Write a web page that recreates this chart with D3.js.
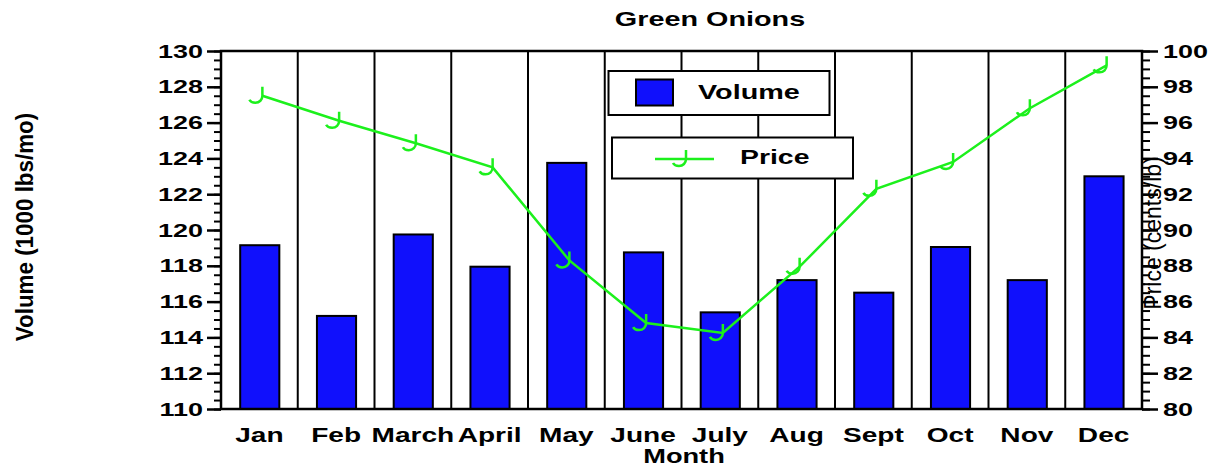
<!DOCTYPE html>
<html>
<head>
  <meta charset="utf-8">
  <title>Green Onions</title>
  <style>
    body { margin: 0; background: #fff; }
    text { font-family: "Liberation Sans", Arial, sans-serif; }
  </style>
</head>
<body>
<script src="https://cdnjs.cloudflare.com/ajax/libs/d3/7.8.5/d3.min.js"></script>
<script>
// data
const months = ["Jan", "Feb", "March", "April", "May", "June", "July", "Aug", "Sept", "Oct", "Nov", "Dec"];
const volume = [119.15, 115.2, 119.75, 117.95, 123.75, 118.75, 115.4, 117.2, 116.5, 119.05, 117.2, 123.0];
const price = [97.5, 96.1, 94.85, 93.5, 88.3, 84.8, 84.25, 87.95, 92.3, 93.8, 96.8, 99.2];
const volTicks = d3.range(110, 131, 2);
const priceTicks = d3.range(80, 101, 2);

const width = 1218, height = 472;
const plotL = 221, plotR = 1142, plotT = 51, plotB = 409;
const sx = 1.42; // text in the picture is stretched sideways

const svg = d3.select("body").append("svg")
  .attr("width", width)
  .attr("height", height);

const x = d3.scaleBand().domain(months).range([plotL, plotR]).padding(0);
const yVol = d3.scaleLinear().domain([110, 130]).range([plotB, plotT]);
const yPrice = d3.scaleLinear().domain([80, 100]).range([plotB, plotT]);

// title
svg.append("text")
  .attr("transform", `translate(710,26) scale(1.44,1)`)
  .attr("text-anchor", "middle")
  .attr("font-weight", "bold")
  .attr("font-size", 20)
  .text("Green Onions");

// vertical separators between months
svg.append("g").selectAll("line")
  .data(months.slice(1))
  .join("line")
  .attr("x1", d => x(d)).attr("x2", d => x(d))
  .attr("y1", plotT).attr("y2", plotB)
  .attr("stroke", "#000").attr("stroke-width", 2);

// bars
svg.append("g").selectAll("rect")
  .data(months)
  .join("rect")
  .attr("x", d => x(d) + x.bandwidth() * 0.25)
  .attr("width", x.bandwidth() * 0.51)
  .attr("y", (d, i) => yVol(volume[i]))
  .attr("height", (d, i) => plotB - yVol(volume[i]))
  .attr("fill", "#1010fc")
  .attr("stroke", "#000")
  .attr("stroke-width", 2);

// frame
svg.append("rect")
  .attr("x", plotL).attr("y", plotT)
  .attr("width", plotR - plotL).attr("height", plotB - plotT)
  .attr("fill", "none").attr("stroke", "#000").attr("stroke-width", 2.5);

// left axis: minor then major
svg.append("g").attr("transform", `translate(${plotL},0)`)
  .call(d3.axisLeft(yVol).tickValues(d3.range(110, 130.01, 0.5)).tickSize(7).tickFormat(""))
  .call(g => g.select(".domain").remove())
  .call(g => g.selectAll("line").attr("stroke-width", 2));

svg.append("g").attr("transform", `translate(${plotL},0)`)
  .call(d3.axisLeft(yVol).tickValues(volTicks).tickSize(14).tickFormat(d3.format("d")))
  .call(g => g.select(".domain").remove())
  .call(g => g.selectAll("line").attr("stroke-width", 2.5))
  .call(g => g.selectAll("text")
    .attr("x", null)
    .attr("transform", `translate(-18,0) scale(${sx},1)`)
    .attr("font-family", "Liberation Sans, Arial, sans-serif")
    .attr("font-weight", "bold")
    .attr("font-size", 19)
    .attr("fill", "#000"));

// right axis
svg.append("g").attr("transform", `translate(${plotR},0)`)
  .call(d3.axisRight(yPrice).tickValues(d3.range(80, 100.01, 0.5)).tickSize(8).tickFormat(""))
  .call(g => g.select(".domain").remove())
  .call(g => g.selectAll("line").attr("stroke-width", 2));

svg.append("g").attr("transform", `translate(${plotR},0)`)
  .call(d3.axisRight(yPrice).tickValues(priceTicks).tickSize(16).tickFormat(d3.format("d")))
  .call(g => g.select(".domain").remove())
  .call(g => g.selectAll("line").attr("stroke-width", 2.5))
  .call(g => g.selectAll("text")
    .attr("x", null)
    .attr("transform", `translate(21,0) scale(${sx},1)`)
    .attr("font-family", "Liberation Sans, Arial, sans-serif")
    .attr("font-weight", "bold")
    .attr("font-size", 19)
    .attr("fill", "#000"));

// x labels
svg.append("g").selectAll("text")
  .data(months)
  .join("text")
  .attr("transform", d => `translate(${x(d) + x.bandwidth() / 2},442) scale(1.37,1)`)
  .attr("text-anchor", "middle")
  .attr("font-weight", "bold")
  .attr("font-size", 20.5)
  .text(d => d);

svg.append("text")
  .attr("transform", `translate(684,463) scale(1.36,1)`)
  .attr("text-anchor", "middle")
  .attr("font-weight", "bold")
  .attr("font-size", 20)
  .text("Month");

// axis titles
svg.append("text")
  .attr("transform", `translate(33,227) scale(1.1,1) rotate(-90)`)
  .attr("text-anchor", "middle")
  .attr("font-weight", "bold")
  .attr("font-size", 22.4)
  .text("Volume (1000 lbs/mo)");

svg.append("text")
  .attr("transform", `translate(1161,233) rotate(-90)`)
  .attr("text-anchor", "middle")
  .attr("font-size", 23)
  .text("Price (cents/lb)");

// price line with hook markers
const green = "#1cf01c";
const px = (d, i) => x(months[i]) + x.bandwidth() / 2 + 3;
const hook = "M0,-9 V0 C0,4 -3,7 -7,7 C-10,7 -12,6 -13,4";

svg.append("path")
  .datum(price)
  .attr("d", d3.line().x(px).y(d => yPrice(d)))
  .attr("fill", "none")
  .attr("stroke", green)
  .attr("stroke-width", 2.5);

svg.append("g").selectAll("path")
  .data(price)
  .join("path")
  .attr("transform", (d, i) => `translate(${px(d, i)},${yPrice(d)})`)
  .attr("d", hook)
  .attr("fill", "none")
  .attr("stroke", green)
  .attr("stroke-width", 2.5);

// legend
const leg = svg.append("g");
leg.append("rect")
  .attr("x", 608.5).attr("y", 71).attr("width", 221).attr("height", 44)
  .attr("fill", "#fff").attr("stroke", "#000").attr("stroke-width", 2);
leg.append("rect")
  .attr("x", 636).attr("y", 79.5).attr("width", 37).attr("height", 26)
  .attr("fill", "#1010fc").attr("stroke", "#000").attr("stroke-width", 2);
leg.append("text")
  .attr("transform", `translate(698,98.5) scale(1.44,1)`)
  .attr("font-weight", "bold")
  .attr("font-size", 20)
  .text("Volume");

leg.append("rect")
  .attr("x", 612).attr("y", 137.5).attr("width", 241).attr("height", 41)
  .attr("fill", "#fff").attr("stroke", "#000").attr("stroke-width", 2);
leg.append("line")
  .attr("x1", 655).attr("x2", 714).attr("y1", 159).attr("y2", 159)
  .attr("stroke", green).attr("stroke-width", 2.5);
leg.append("path")
  .attr("transform", "translate(686,159)")
  .attr("d", hook)
  .attr("fill", "none").attr("stroke", green).attr("stroke-width", 2.5);
leg.append("text")
  .attr("transform", `translate(740,164) scale(1.42,1)`)
  .attr("font-weight", "bold")
  .attr("font-size", 20)
  .text("Price");
</script>
</body>
</html>
